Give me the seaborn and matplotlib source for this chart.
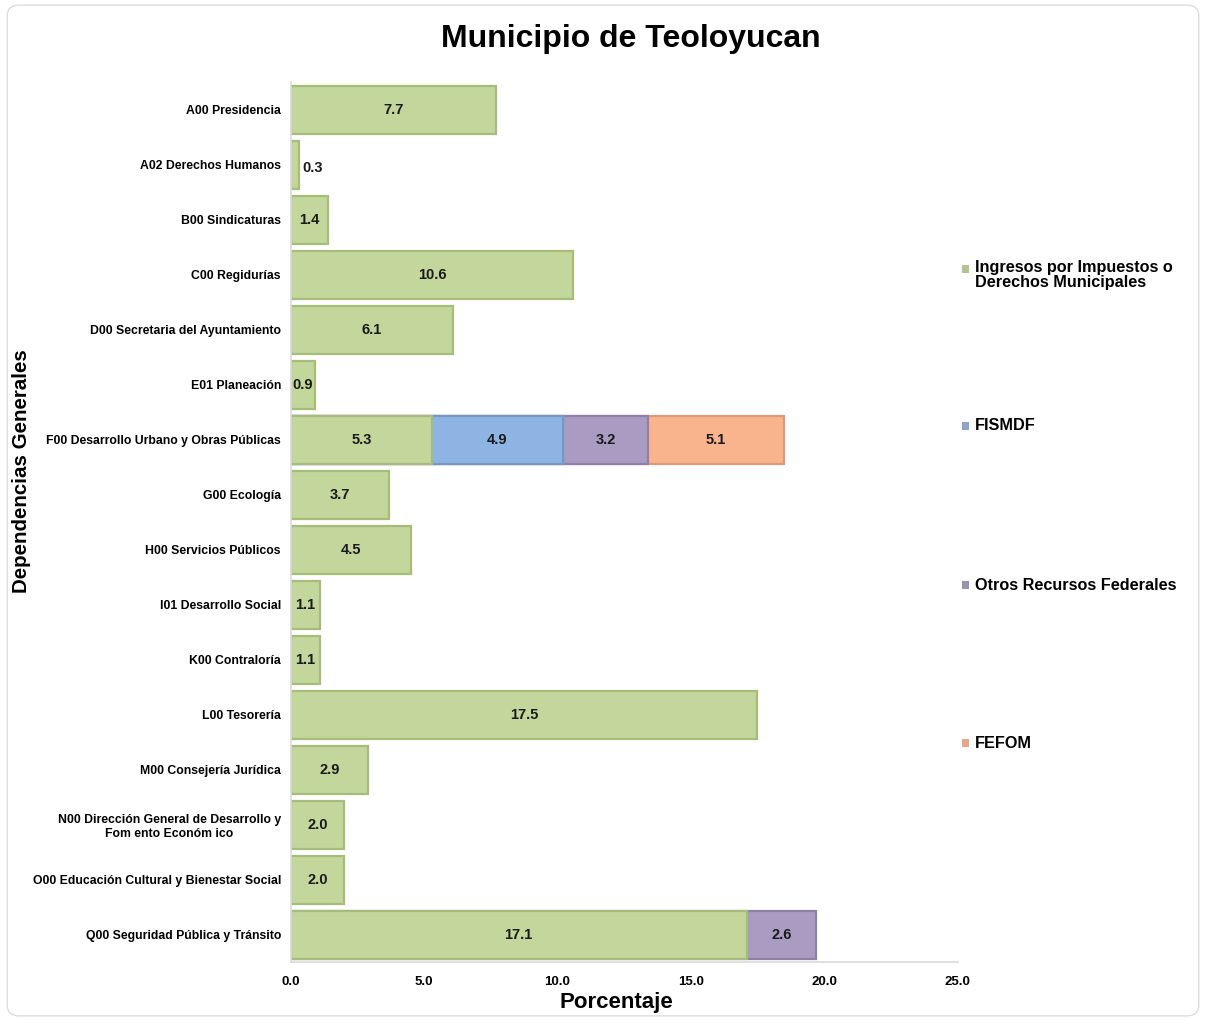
import matplotlib.pyplot as plt
import numpy as np
import pandas as pd
import seaborn as sns
from matplotlib.patches import FancyBboxPatch, Rectangle

CATEGORIES = [
    'A00 Presidencia',
    'A02 Derechos Humanos',
    'B00 Sindicaturas',
    'C00 Regidurías',
    'D00 Secretaria del Ayuntamiento',
    'E01 Planeación',
    'F00 Desarrollo Urbano y Obras Públicas',
    'G00 Ecología',
    'H00 Servicios Públicos',
    'I01 Desarrollo Social',
    'K00 Contraloría',
    'L00 Tesorería',
    'M00 Consejería Jurídica',
    'N00 Dirección General de Desarrollo y\nFom ento Económ ico',
    'O00 Educación Cultural y Bienestar Social',
    'Q00 Seguridad Pública y Tránsito',
]
INGRESOS = [7.7, 0.3, 1.4, 10.6, 6.1, 0.9, 5.3, 3.7, 4.5, 1.1, 1.1, 17.5, 2.9, 2.0, 2.0, 17.1]
FISMDF = [0, 0, 0, 0, 0, 0, 4.9, 0, 0, 0, 0, 0, 0, 0, 0, 0]
OTROS = [0, 0, 0, 0, 0, 0, 3.2, 0, 0, 0, 0, 0, 0, 0, 0, 2.6]
FEFOM = [0, 0, 0, 0, 0, 0, 5.1, 0, 0, 0, 0, 0, 0, 0, 0, 0]

SERIES = ['Ingresos por Impuestos o\nDerechos Municipales', 'FISMDF',
          'Otros Recursos Federales', 'FEFOM']
COLORS = ['#C3D69B', '#8EB4E3', '#A99BC2', '#F9B48E']
EDGES = ['#A6BD7A', '#7399C9', '#8E80AB', '#DE9A76']
LEG_COLORS = ['#B5C48F', '#8AA3CF', '#9A92B3', '#E8A887']

sns.set_theme(style='white')
plt.rcParams['font.family'] = ['Liberation Sans', 'DejaVu Sans']
plt.rcParams['text.color'] = 'black'
plt.rcParams['xtick.color'] = 'black'
plt.rcParams['ytick.color'] = 'black'
plt.rcParams['axes.labelcolor'] = 'black'

df = pd.DataFrame({'cat': CATEGORIES, 'ing': INGRESOS, 'fis': FISMDF,
                   'otr': OTROS, 'fef': FEFOM})
cols = ['ing', 'fis', 'otr', 'fef']
cum = df[cols].cumsum(axis=1)

fig = plt.figure(figsize=(12.06, 10.21), dpi=100)
ax = fig.add_axes([0.241, 0.0573, 0.553, 0.862])

# stacked bars: draw cumulative totals from outermost to innermost
for i in range(3, -1, -1):
    vals = cum[cols[i]].where(df[cols[i]] > 0)
    sns.barplot(x=vals, y=df['cat'], color=COLORS[i], orient='h', ax=ax,
                width=0.86, edgecolor=EDGES[i], linewidth=1.6, saturation=1)

# value labels
for r in range(len(df)):
    start = 0
    for c in cols:
        v = df.loc[r, c]
        if v > 0:
            if v < 0.5:
                ax.text(start + v + 0.15, r + 0.05, f'{v:.1f}', ha='left', va='center',
                        fontsize=10.5, fontweight='bold', color='#1a1a1a')
            else:
                ax.text(start + v / 2, r, f'{v:.1f}', ha='center', va='center',
                        fontsize=10.5, fontweight='bold', color='#1a1a1a')
        start += v

ax.set_xlim(0, 25)
ax.set_ylim(15.5, -0.5)
ax.set_xticks(np.arange(0, 25.1, 5))
ax.set_xticklabels([f'{t:.1f}' for t in np.arange(0, 25.1, 5)], fontsize=9.5, fontweight='bold')
ax.tick_params(axis='x', length=0, pad=10)
ax.tick_params(axis='y', length=0, pad=7)
for lab in ax.get_yticklabels():
    lab.set_fontsize(8.8)
    lab.set_fontweight('bold')
    lab.set_multialignment('center')
for s in ['top', 'right']:
    ax.spines[s].set_visible(False)
ax.spines['left'].set_color('#dcdcdc')
ax.spines['bottom'].set_color('#dcdcdc')
ax.set_xlabel('Porcentaje', fontsize=16, fontweight='bold')
ax.xaxis.set_label_coords(0.489, -0.034)
ax.set_ylabel('Dependencias Generales', fontsize=14.8, fontweight='bold')
ax.yaxis.set_label_coords(-0.39, 0.558)

fig.text(0.523, 0.962, 'Municipio de Teoloyucan', ha='center', va='center',
         fontsize=23, fontweight='bold')

# legend, spread down the right side
leg_y = [269, 426, 585, 743]
for lab, col, y in zip(SERIES, LEG_COLORS, leg_y):
    fy = 1 - y / 1021
    fig.patches.append(Rectangle((962 / 1206, fy - 0.0038), 0.0062, 0.0076,
                                 transform=fig.transFigure, facecolor=col,
                                 edgecolor='none'))
    fig.text(975 / 1206, fy + (0.0085 if '\n' in lab else 0), lab, ha='left',
             va='top' if '\n' in lab else 'center',
             fontsize=11.7, fontweight='bold', linespacing=1.0,
             transform=fig.transFigure)

fig.patches.append(FancyBboxPatch((0.006, 0.005), 0.988, 0.99,
                                  boxstyle='round,pad=0,rounding_size=0.01',
                                  transform=fig.transFigure, facecolor='none',
                                  edgecolor='#dddddd', linewidth=1))

fig.savefig('out.png', dpi=100)
